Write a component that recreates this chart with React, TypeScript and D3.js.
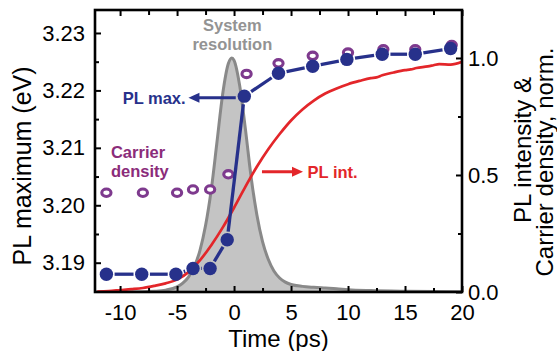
import React, { useEffect, useRef } from 'react';
import * as d3 from 'd3';

// PL maximum (left axis, eV)
const plTimes = [-11.2, -8.1, -5.1, -3.6, -2.1, -0.6, 0.9, 3.9, 6.9, 9.9, 13.0, 15.9, 19.0];
const plMax = [3.188, 3.188, 3.188, 3.189, 3.189, 3.194, 3.219, 3.223, 3.2242, 3.2254, 3.2263, 3.2263, 3.2273];

// carrier density (right axis, normalized)
const carrierTimes = [-11.2, -8.0, -5.0, -3.6, -2.1, -0.5, 1.1, 3.9, 6.9, 10.0, 13.1, 15.9, 19.1];
const carrierDensity = [0.424, 0.424, 0.424, 0.438, 0.438, 0.503, 0.932, 0.977, 1.009, 1.023, 1.037, 1.037, 1.055];

// PL intensity (right axis, normalized)
const intTimes = [-12, -11, -10, -9, -8, -7, -6, -5, -4, -3, -2, -1, 0, 1, 2, 3, 4, 5, 6, 7, 8, 9, 10, 11, 12, 12.5, 13, 14, 15, 15.5, 16, 17, 17.5, 18, 19, 20];
const intValues = [0.002, 0.004, 0.008, 0.012, 0.017, 0.026, 0.037, 0.053, 0.085, 0.135, 0.2, 0.275, 0.36, 0.45, 0.535, 0.61, 0.675, 0.733, 0.78, 0.818, 0.848, 0.87, 0.888, 0.902, 0.914, 0.917, 0.926, 0.938, 0.948, 0.951, 0.957, 0.964, 0.969, 0.974, 0.972, 0.984];

// system resolution (right axis, normalized)
const resTimes = [-12.2, -8, -7, -6, -5, -4.5, -4, -3.5, -3, -2.5, -2, -1.5, -1, -0.5, -0.2, 0, 0.5, 1, 1.5, 2, 2.5, 3, 3.5, 4, 4.5, 5, 6, 7, 8, 9, 10, 12, 15, 20];
const resValues = [0, 0.001, 0.003, 0.008, 0.022, 0.038, 0.064, 0.107, 0.176, 0.284, 0.437, 0.64, 0.845, 0.976, 1.0, 0.99, 0.88, 0.695, 0.49, 0.33, 0.215, 0.14, 0.09, 0.06, 0.042, 0.032, 0.024, 0.02, 0.017, 0.014, 0.01, 0.006, 0.003, 0.001];

const xMajor = [-10, -5, 0, 5, 10, 15, 20];
const xMinor = [-7.5, -2.5, 2.5, 7.5, 12.5, 17.5];
const leftMajor = [3.19, 3.2, 3.21, 3.22, 3.23];
const leftMinor = [3.195, 3.205, 3.215, 3.225];
const rightMajor = [0, 0.5, 1.0];
const rightMinor = [0.25, 0.75];

const BLUE = '#27318b';
const RED = '#e3262a';
const PURPLE = '#7e3a8e';
const PURPLE_TEXT = '#8b2c7a';
const GREY_TEXT = '#939393';
const FONT = '"Liberation Sans", Arial, Helvetica, sans-serif';

const App = () => {
    const svgRef = useRef<SVGSVGElement | null>(null);

    useEffect(() => {
        const svg = d3.select(svgRef.current);
        svg.selectAll('*').remove();

        const left = 95, right = 462, top = 10, bottom = 292;

        const x = d3.scaleLinear().domain([-12.2, 20]).range([left, right]);
        const yL = d3.scaleLinear().domain([3.1849, 3.234]).range([bottom, top]);
        const yR = d3.scaleLinear().domain([0, 1.205]).range([bottom, top]);

        svg.append('defs').append('clipPath').attr('id', 'plot-clip')
            .append('rect')
            .attr('x', left).attr('y', top)
            .attr('width', right - left).attr('height', bottom - top);

        const plot = svg.append('g').attr('clip-path', 'url(#plot-clip)');

        // system resolution
        const resData = resTimes.map((t, i) => [t, resValues[i]] as [number, number]);
        plot.append('path')
            .datum(resData)
            .attr('fill', '#c4c4c4')
            .attr('d', d3.area<[number, number]>()
                .x(d => x(d[0])).y0(yR(0)).y1(d => yR(d[1]))
                .curve(d3.curveMonotoneX));
        plot.append('path')
            .datum(resData)
            .attr('fill', 'none')
            .attr('stroke', '#898989')
            .attr('stroke-width', 3)
            .attr('d', d3.line<[number, number]>()
                .x(d => x(d[0])).y(d => yR(d[1]))
                .curve(d3.curveMonotoneX));

        // PL intensity
        plot.append('path')
            .datum(intTimes.map((t, i) => [t, intValues[i]] as [number, number]))
            .attr('fill', 'none')
            .attr('stroke', RED)
            .attr('stroke-width', 2.7)
            .attr('stroke-linejoin', 'round')
            .attr('d', d3.line<[number, number]>()
                .x(d => x(d[0])).y(d => yR(d[1]))
                .curve(d3.curveMonotoneX));

        // carrier density rings
        plot.selectAll('ellipse.carrier')
            .data(carrierTimes.map((t, i) => [t, carrierDensity[i]]))
            .enter()
            .append('ellipse')
            .attr('class', 'carrier')
            .attr('cx', d => x(d[0]))
            .attr('cy', d => yR(d[1]))
            .attr('rx', 4.6)
            .attr('ry', 3.7)
            .attr('fill', 'white')
            .attr('stroke', PURPLE)
            .attr('stroke-width', 3.1);

        // PL max line, with a small gap to each symbol
        const r = 6.7;
        const pts = plTimes.map((t, i) => [x(t), yL(plMax[i])]);
        for (let i = 0; i < pts.length - 1; i++) {
            const [x1, y1] = pts[i];
            const [x2, y2] = pts[i + 1];
            const len = Math.hypot(x2 - x1, y2 - y1);
            const cut = r + 1.5;
            if (len <= 2 * cut) continue;
            const ux = (x2 - x1) / len, uy = (y2 - y1) / len;
            plot.append('line')
                .attr('x1', x1 + ux * cut).attr('y1', y1 + uy * cut)
                .attr('x2', x2 - ux * cut).attr('y2', y2 - uy * cut)
                .attr('stroke', BLUE)
                .attr('stroke-width', 3.3);
        }
        plot.selectAll('circle.plmax')
            .data(pts)
            .enter()
            .append('circle')
            .attr('class', 'plmax')
            .attr('cx', d => d[0])
            .attr('cy', d => d[1])
            .attr('r', r)
            .attr('fill', BLUE);

        // frame
        svg.append('rect')
            .attr('x', left).attr('y', top)
            .attr('width', right - left).attr('height', bottom - top)
            .attr('fill', 'none')
            .attr('stroke', 'black')
            .attr('stroke-width', 2.6);

        const styleAxis = (g: any) => {
            g.select('.domain').remove();
            g.selectAll('line').attr('stroke', 'black').attr('stroke-width', 2);
            g.selectAll('text')
                .attr('font-family', FONT)
                .attr('font-size', 22)
                .attr('fill', 'black');
        };

        // bottom axis
        svg.append('g').attr('transform', `translate(0,${bottom})`)
            .call(d3.axisBottom(x).tickValues(xMajor).tickSize(-6).tickPadding(12)
                .tickFormat(d => String(d)))
            .call(styleAxis);
        svg.append('g').attr('transform', `translate(0,${bottom})`)
            .call(d3.axisBottom(x).tickValues(xMinor).tickSize(-4).tickFormat(() => ''))
            .call(styleAxis);
        // top axis
        svg.append('g').attr('transform', `translate(0,${top})`)
            .call(d3.axisTop(x).tickValues(xMajor).tickSize(-6).tickFormat(() => ''))
            .call(styleAxis);
        svg.append('g').attr('transform', `translate(0,${top})`)
            .call(d3.axisTop(x).tickValues(xMinor).tickSize(-5).tickFormat(() => ''))
            .call(styleAxis);
        // left axis
        svg.append('g').attr('transform', `translate(${left},0)`)
            .call(d3.axisLeft(yL).tickValues(leftMajor).tickSize(-6).tickPadding(10)
                .tickFormat(d3.format('.2f')))
            .call(styleAxis);
        svg.append('g').attr('transform', `translate(${left},0)`)
            .call(d3.axisLeft(yL).tickValues(leftMinor).tickSize(-4).tickFormat(() => ''))
            .call(styleAxis);
        // right axis
        svg.append('g').attr('transform', `translate(${right},0)`)
            .call(d3.axisRight(yR).tickValues(rightMajor).tickSize(-6).tickPadding(6)
                .tickFormat(d3.format('.1f')))
            .call(styleAxis);
        svg.append('g').attr('transform', `translate(${right},0)`)
            .call(d3.axisRight(yR).tickValues(rightMinor).tickSize(-4).tickFormat(() => ''))
            .call(styleAxis);

        // axis titles
        svg.append('text')
            .attr('x', (left + right) / 2).attr('y', 347)
            .attr('text-anchor', 'middle')
            .attr('font-family', FONT).attr('font-size', 24)
            .text('Time (ps)');
        svg.append('text')
            .attr('transform', `translate(31,166) rotate(-90)`)
            .attr('text-anchor', 'middle')
            .attr('font-family', FONT).attr('font-size', 25)
            .text('PL maximum (eV)');
        svg.append('text')
            .attr('transform', `translate(531,150) rotate(-90)`)
            .attr('text-anchor', 'middle')
            .attr('font-family', FONT).attr('font-size', 24)
            .text('PL intensity &');
        svg.append('text')
            .attr('transform', `translate(553,162) rotate(-90)`)
            .attr('text-anchor', 'middle')
            .attr('font-family', FONT).attr('font-size', 24)
            .text('Carrier density, norm.');

        // annotations
        const label = (px: number, py: number, txt: string, color: string, anchor: string) =>
            svg.append('text')
                .attr('x', px).attr('y', py)
                .attr('text-anchor', anchor)
                .attr('font-family', FONT)
                .attr('font-weight', 'bold')
                .attr('font-size', 16.5)
                .attr('fill', color)
                .text(txt);

        const arrow = (x1: number, x2: number, yy: number, color: string) => {
            const dir = Math.sign(x2 - x1);
            svg.append('line')
                .attr('x1', x1).attr('y1', yy)
                .attr('x2', x2 - dir * 9).attr('y2', yy)
                .attr('stroke', color).attr('stroke-width', 3);
            svg.append('path')
                .attr('d', `M${x2},${yy} L${x2 - dir * 11},${yy - 5} L${x2 - dir * 11},${yy + 5} Z`)
                .attr('fill', color);
        };

        label(x(-0.15), 31, 'System', GREY_TEXT, 'middle');
        label(x(-0.15), 50, 'resolution', GREY_TEXT, 'middle');

        arrow(x(0.15), x(-4.0), yL(3.2187), BLUE);
        label(x(-4.25), yL(3.2187) + 6, 'PL max.', BLUE, 'end');

        label(x(-10.8), 158, 'Carrier', PURPLE_TEXT, 'start');
        label(x(-10.8), 177, 'density', PURPLE_TEXT, 'start');

        arrow(x(2.45), x(6.05), yR(0.514), RED);
        label(x(6.45), yR(0.514) + 6, 'PL int.', RED, 'start');
    }, []);

    return (
        <div style={{ position: 'absolute', left: 0, top: 0 }}>
            <svg ref={svgRef} width={557} height={351} style={{ display: 'block', background: 'white' }}></svg>
        </div>
    );
};

export default App;
